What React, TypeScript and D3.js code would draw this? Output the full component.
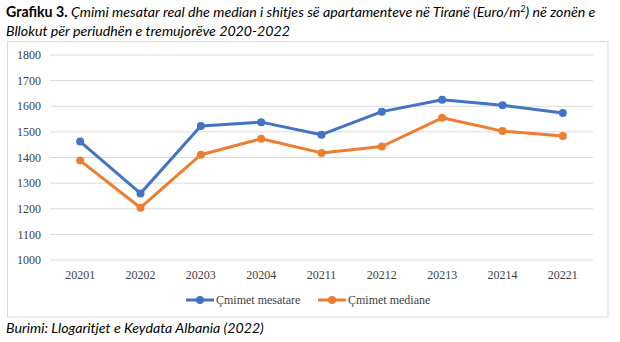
import React from "react";
import * as d3 from "d3";

const categories = ["20201", "20202", "20203", "20204", "20211", "20212", "20213", "20214", "20221"];
const meanValues = [1462, 1260, 1523, 1538, 1489, 1579, 1625, 1604, 1574];
const medianValues = [1388, 1204, 1411, 1473, 1418, 1443, 1555, 1503, 1484];
const yTicks = [1000, 1100, 1200, 1300, 1400, 1500, 1600, 1700, 1800];
const seriesNames = ["Çmimet mesatare", "Çmimet mediane"];
const colors = ["#4472C4", "#ED7D31"];

export default function App() {
  const W = 620, H = 342;
  const x = d3.scaleBand().domain(categories).range([50, 593]);
  const y = d3.scaleLinear().domain([1000, 1800]).range([260, 55]);
  const line = d3.line<number>().x((_, i) => x(categories[i])! + x.bandwidth() / 2).y(d => y(d));
  const series = [meanValues, medianValues];
  const titleFont = "Lato, 'Open Sans', sans-serif";
  const serif = "'Liberation Serif', 'Times New Roman', serif";
  const tf = 14.2;
  return (
    <svg width={W} height={H} style={{ position: "absolute", left: 0, top: 0, background: "#fff" }}>
      <text x={6} y={17} style={{ fontFamily: titleFont, fontSize: tf }} fill="#000">
        <tspan fontWeight="bold">Grafiku 3. </tspan>
        <tspan fontStyle="italic">Çmimi mesatar real dhe median i shitjes së apartamenteve në Tiranë (Euro/m</tspan>
        <tspan fontStyle="italic" fontSize={9} dy={-5}>2</tspan>
        <tspan fontStyle="italic" dy={5}>) në zonën e</tspan>
      </text>
      <text x={6} y={36} style={{ fontFamily: titleFont, fontSize: tf, fontStyle: "italic" }} fill="#000">
        Bllokut për periudhën e tremujorëve 2020-2022
      </text>
      <rect x={7.5} y={41.5} width={600.5} height={275.5} fill="#fff" stroke="#d9d9d9" />
      {yTicks.map(t => (
        <g key={t}>
          <line x1={50} x2={593} y1={y(t)} y2={y(t)} stroke="#d9d9d9" strokeWidth={1} />
          <text x={41} y={y(t)} dy="0.35em" textAnchor="end" style={{ fontFamily: serif, fontSize: 12 }} fill="#404040">{t}</text>
        </g>
      ))}
      {categories.map(c => (
        <text key={c} x={x(c)! + x.bandwidth() / 2} y={275} dy="0.35em" textAnchor="middle" style={{ fontFamily: serif, fontSize: 12 }} fill="#404040">{c}</text>
      ))}
      {series.map((s, si) => (
        <g key={si}>
          <path d={line(s)!} fill="none" stroke={colors[si]} strokeWidth={3} strokeLinejoin="round" />
          {s.map((v, i) => (
            <circle key={i} cx={x(categories[i])! + x.bandwidth() / 2} cy={y(v)} r={4} fill={colors[si]} />
          ))}
        </g>
      ))}
      {seriesNames.map((n, i) => {
        const lx = 186 + i * 132;
        return (
          <g key={n}>
            <line x1={lx} x2={lx + 28} y1={300} y2={300} stroke={colors[i]} strokeWidth={3} />
            <circle cx={lx + 14} cy={300} r={4} fill={colors[i]} />
            <text x={lx + 30} y={300} dy="0.35em" style={{ fontFamily: serif, fontSize: 12 }} fill="#404040">{n}</text>
          </g>
        );
      })}
      <text x={6} y={333} style={{ fontFamily: titleFont, fontSize: tf, fontStyle: "italic" }} fill="#000">
        Burimi: Llogaritjet e Keydata Albania (2022)
      </text>
    </svg>
  );
}
